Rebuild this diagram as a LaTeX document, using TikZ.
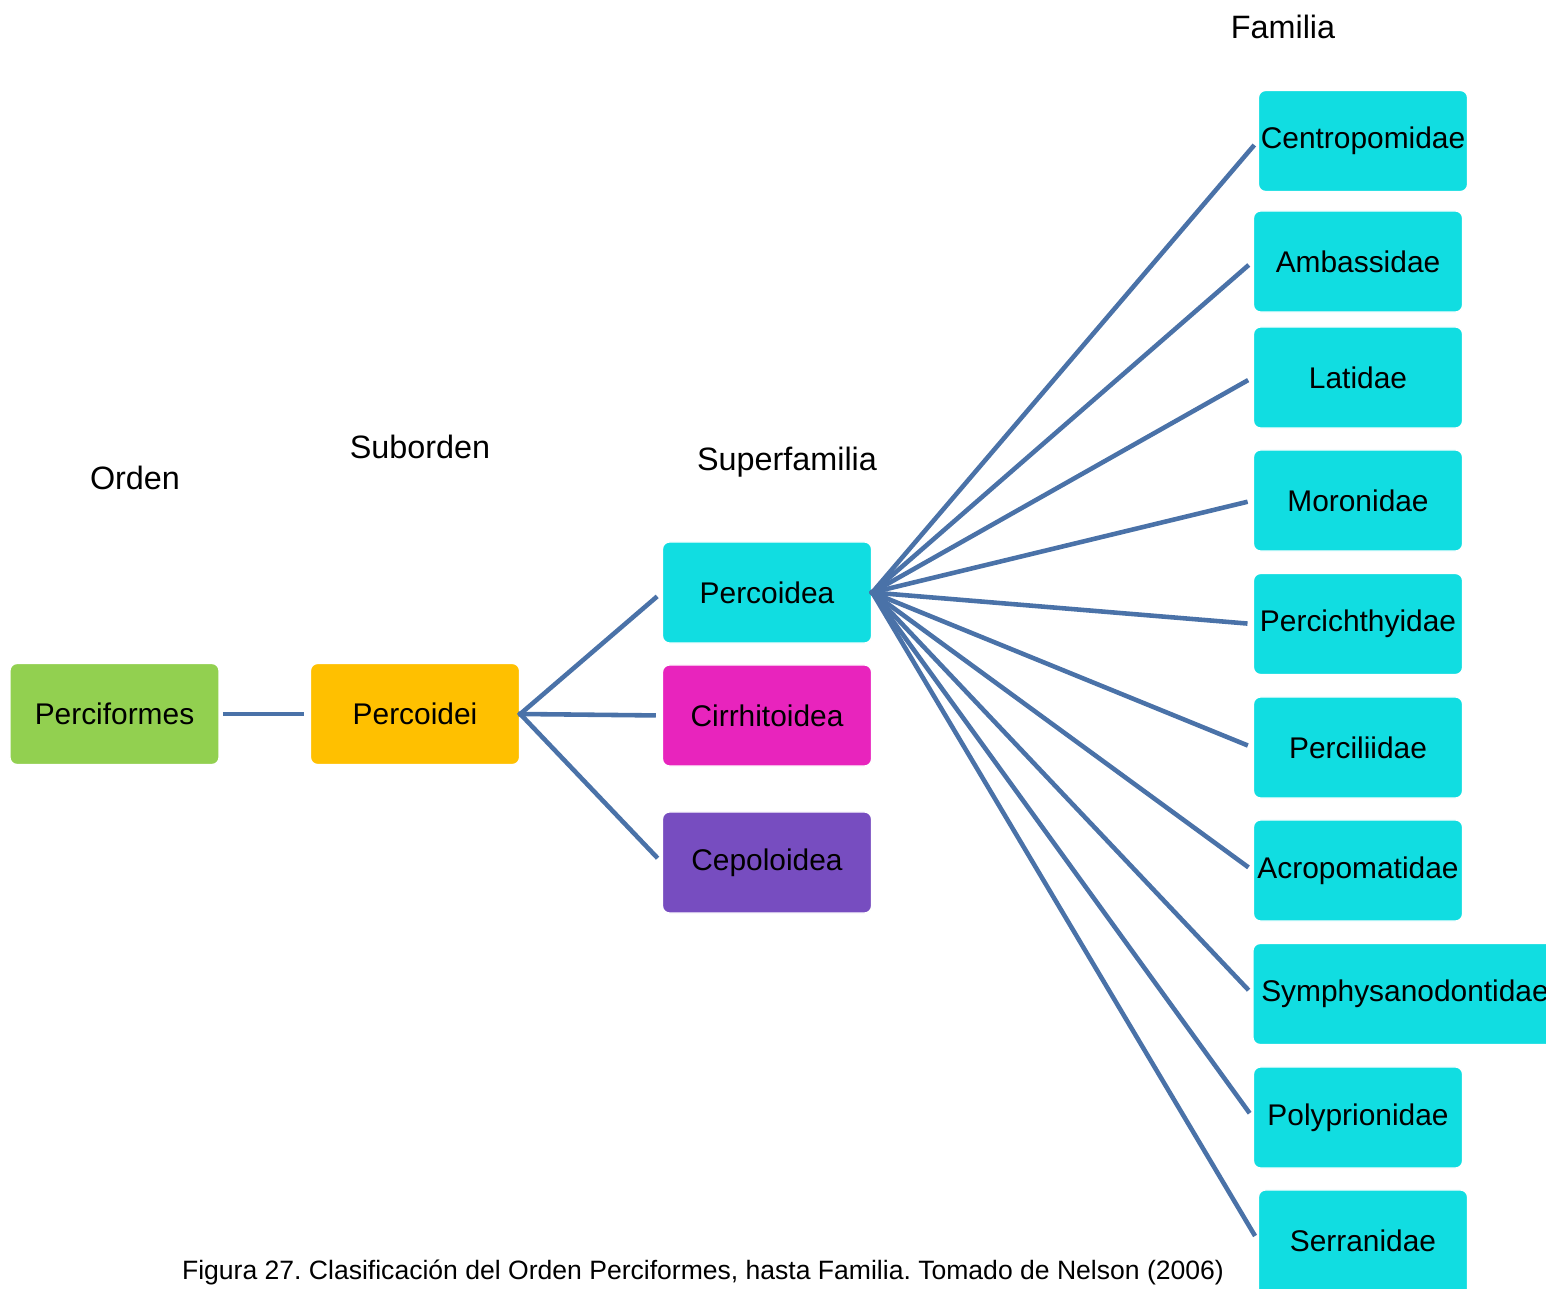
\documentclass[tikz,border=0pt]{standalone}
\usepackage{fontspec}
\setmainfont{Liberation Sans}
\frenchspacing
\begin{document}
\begin{tikzpicture}[x=0.01cm,y=-0.01cm,
  taxon/.style={rectangle, rounded corners=2pt, draw=white, line width=0.4pt,
    minimum width=2.09cm, minimum height=1.01cm, inner sep=0pt,
    font=\fontsize{8.5}{10}\selectfont, text=black},
  orden/.style={taxon, fill=ordenfill},
  subord/.style={taxon, fill=subordfill},
  cyanbox/.style={taxon, fill=cyanfill},
  link/.style={draw=linkblue, line width=1.3pt},
  level/.style={font=\fontsize{9.2}{11}\selectfont, inner sep=0pt},
]
\definecolor{ordenfill}{HTML}{92D050}
\definecolor{subordfill}{HTML}{FFC000}
\definecolor{cyanfill}{HTML}{11DDE1}
\definecolor{magfill}{HTML}{E824BD}
\definecolor{purfill}{HTML}{774DC0}
\definecolor{linkblue}{HTML}{4A72A8}

\useasboundingbox (0,0) rectangle (1546,1289);
\clip (0,0) rectangle (1546,1289);

% level headings
\node[level] (hOrden) at (135,478) {Orden};
\node[level] (hSub) at (420,447) {Suborden};
\node[level] (hSuper) at (787,462) {Superfamilia};
\node[level] (hFam) at (1283,27) {Familia};

% order and suborder
\node[orden] (perciformes) at (114.5,714) {Perciformes};
\node[subord] (percoidei) at (415,714) {Percoidei};

% superfamilies
\node[cyanbox] (percoidea) at (767,592.5) {Percoidea};
\node[taxon, fill=magfill] (cirrhitoidea) at (767,715.5) {Cirrhitoidea};
\node[taxon, fill=purfill] (cepoloidea) at (767,862.5) {Cepoloidea};

% families
\node[cyanbox] (centropomidae) at (1363,141) {Centropomidae};
\node[cyanbox] (ambassidae) at (1358,261.5) {Ambassidae};
\node[cyanbox] (latidae) at (1358,377.5) {Latidae};
\node[cyanbox] (moronidae) at (1358,500.5) {Moronidae};
\node[cyanbox] (percichthyidae) at (1358,624) {Percichthyidae};
\node[cyanbox] (perciliidae) at (1358,747.5) {Perciliidae};
\node[cyanbox] (acropomatidae) at (1358,870.5) {Acropomatidae};
\node[cyanbox, minimum width=3.04cm] (symphysanodontidae) at (1405,994) {Symphysanodontidae};
\node[cyanbox] (polyprionidae) at (1358,1117.5) {Polyprionidae};
% last box runs off the lower edge
\node[cyanbox, minimum height=1.2cm] (serranidae) at (1363,1250) {\raisebox{0.19cm}{Serranidae}};

% connectors
\draw[link, shorten <=0.9pt, shorten >=1.7pt] (perciformes.east) -- (percoidei.west);
\foreach \s in {percoidea,cirrhitoidea,cepoloidea}
  \draw[link, shorten <=-0.6pt, shorten >=1.7pt] (percoidei.east) -- (\s.west);
\foreach \f in {ambassidae,latidae,moronidae,percichthyidae,perciliidae,
                acropomatidae,symphysanodontidae,polyprionidae}
  \draw[link, shorten <=-0.6pt, shorten >=1.5pt] (percoidea.east) -- (\f.west);
\draw[link, shorten <=-0.6pt, shorten >=1.5pt] (percoidea.east) -- (centropomidae.west);
\draw[link, shorten <=-0.6pt, shorten >=1.5pt] (percoidea.east) -- ([yshift=0.095cm]serranidae.west);

% caption
\node[font=\fontsize{7.55}{9}\selectfont, inner sep=0pt] (caption) at (703,1272)
  {Figura 27. Clasificación del Orden Perciformes, hasta Familia. Tomado de Nelson (2006)};
\end{tikzpicture}
\end{document}
